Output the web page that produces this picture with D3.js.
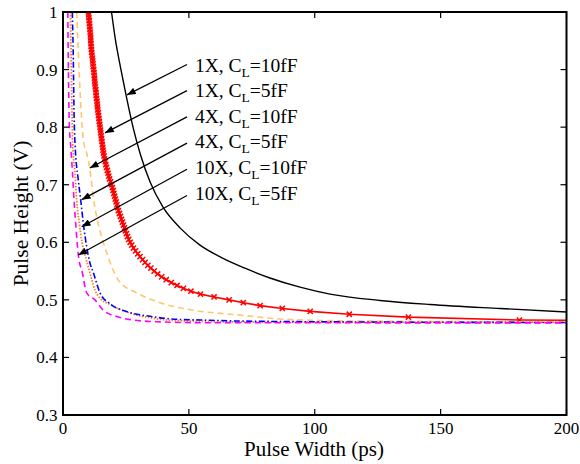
<!DOCTYPE html>
<html><head><meta charset="utf-8">
<script src="https://cdn.jsdelivr.net/npm/d3@7"></script>
<style>
body{margin:0;background:#fff}
svg{display:block}
text{font-family:"Liberation Serif",Tinos,"Times New Roman",Times,serif;fill:#000}
</style>
</head><body><svg id="c" width="580" height="464"></svg>
<script>
// ---------- data ----------
const xTicks = [0, 50, 100, 150, 200];
const yTicks = [0.3, 0.4, 0.5, 0.6, 0.7, 0.8, 0.9, 1];
const yTickLabels = ["0.3", "0.4", "0.5", "0.6", "0.7", "0.8", "0.9", "1"];
const xTickLabels = ["0", "50", "100", "150", "200"];
const xLabel = "Pulse Width (ps)";
const yLabel = "Pulse Height (V)";

// 1X, CL=10fF (black solid)
const blackW = [19.27, 20.85, 22.84, 25.03, 27.81, 30.78, 34.56, 39.72, 46.47, 54.42, 63.16, 72.29, 82.22, 94.14, 106.06, 125.92, 145.78, 173.59, 200];
const blackV = [1.0, 0.951, 0.904, 0.856, 0.800, 0.752, 0.705, 0.661, 0.625, 0.595, 0.573, 0.555, 0.538, 0.522, 0.510, 0.499, 0.492, 0.485, 0.479];

// 1X, CL=5fF (red, x markers)
const redV = [1.000,0.995,0.990,0.985,0.980,0.975,0.970,0.965,0.960,0.955,0.950,0.945,0.940,0.935,0.930,0.925,0.920,0.915,0.910,0.905,
  0.900,0.895,0.890,0.885,0.880,0.875,0.870,0.865,0.860,0.855,0.850,0.845,0.840,0.835,0.830,0.825,0.820,0.815,0.810,0.805,
  0.800,0.795,0.790,0.785,0.780,0.775,0.770,0.765,0.760,0.755,0.750,0.745,0.740,0.735,0.730,0.725,0.720,0.715,0.710,0.705,
  0.700,0.695,0.690,0.685,0.680,0.675,0.670,0.665,0.660,0.655,0.650,0.645,0.640,0.635,0.630,0.625,0.620,0.615,0.610,0.605,
  0.600,0.595,0.590,0.585,0.580,0.575,0.570,0.565,0.560,0.555,0.550,0.545,0.540,0.535,0.530,0.525,0.520,0.515,0.510,0.505,
  0.500,0.495,0.490,0.485,0.480,0.475,0.470,0.465,0.4645];
const redW = [10.1,10.2,10.3,10.4,10.5,10.6,10.7,10.8,10.9,11.0,11.0,11.1,11.2,11.3,11.4,11.5,11.7,11.8,11.9,12.0,
  12.2,12.3,12.4,12.5,12.6,12.7,12.8,13.0,13.1,13.2,13.3,13.5,13.6,13.7,13.8,14.0,14.1,14.3,14.4,14.6,
  14.7,14.9,15.0,15.2,15.3,15.5,15.6,15.8,15.9,16.1,16.3,16.5,16.8,17.0,17.3,17.6,17.9,18.2,18.5,18.9,
  19.3,19.6,19.9,20.2,20.5,20.8,21.1,21.4,21.7,22.0,22.4,22.8,23.2,23.6,24.0,24.4,24.8,25.2,25.6,26.1,
  26.7,27.3,28.0,28.8,29.7,30.6,31.6,32.6,33.7,34.9,36.2,37.6,39.2,41.0,43.0,45.3,47.8,50.8,54.6,60.0,
  66.0,71.6,78.3,87.1,98.2,113.7,137.2,181.3,200];
const redMarked = 108; // first 108 points carry markers

// 4X, CL=10fF (light orange dashed)
const ltOrW = [5.45, 6.56, 8.07, 9.42, 10.7, 12.0, 13.4, 15.4, 17.4, 19.4, 22.0, 29.3, 38.6, 51.7, 69.1, 86.3, 106.2, 146, 200];
const ltOrV = [1.0, 0.882, 0.778, 0.755, 0.726, 0.679, 0.644, 0.609, 0.581, 0.557, 0.534, 0.512, 0.495, 0.482, 0.474, 0.4667, 0.464, 0.4624, 0.4615];

// 4X, CL=5fF (blue dash-dot)
const blueW = [3.7, 4.1, 4.37, 4.77, 6.08, 7.04, 8.07, 9.42, 10.7, 12.0, 14.7, 18.7, 25.8, 34.6, 45.2, 54.5, 69.1, 120, 200];
const blueV = [1.0, 0.917, 0.830, 0.772, 0.708, 0.673, 0.633, 0.592, 0.564, 0.548, 0.512, 0.493, 0.479, 0.4714, 0.4662, 0.465, 0.4633, 0.4615, 0.4607];

// 10X, CL=10fF (orange dotted)
const orW = [2.98, 3.38, 3.86, 4.77, 5.45, 6.48, 7.55, 8.75, 9.94, 11.1, 12.7, 14.7, 18.7, 21.9, 26.6, 33.8, 41.4, 54.5, 74.4, 200];
const orV = [1.0, 0.882, 0.772, 0.720, 0.673, 0.633, 0.600, 0.578, 0.559, 0.540, 0.517, 0.503, 0.492, 0.485, 0.477, 0.4694, 0.465, 0.4627, 0.4615, 0.4607];

// 10X, CL=5fF (magenta dashed)
const magW = [1.91, 2.19, 2.58, 2.9, 3.78, 4.37, 5.05, 5.77, 6.36, 7.44, 9.42, 12.7, 16.0, 21.4, 28.0, 37.3, 57.1, 200];
const magV = [1.0, 0.882, 0.795, 0.776, 0.720, 0.673, 0.633, 0.592, 0.569, 0.552, 0.512, 0.500, 0.482, 0.471, 0.465, 0.462, 0.4603, 0.460];

// annotations
const labelMain = ["1X, C", "1X, C", "4X, C", "4X, C", "10X, C", "10X, C"];
const labelSub = ["L", "L", "L", "L", "L", "L"];
const labelTail = ["=10fF", "=5fF", "=10fF", "=5fF", "=10fF", "=5fF"];
const arrowTipW = [25.4, 16.7, 10.65, 7.44, 7.44, 6.08];
const arrowTipV = [0.856, 0.790, 0.729, 0.674, 0.627, 0.578];

// ---------- drawing ----------
const svg = d3.select("#c");
const L = 63, R = 566.5, T = 12, B = 415;
const x = d3.scaleLinear().domain([0, 200]).range([L, R]);
const y = d3.scaleLinear().domain([0.3, 1]).range([B, T]);

const defs = svg.append("defs");
defs.append("clipPath").attr("id", "clip")
  .append("rect").attr("x", L).attr("y", T).attr("width", R - L).attr("height", B - T);
defs.append("marker").attr("id", "ah").attr("viewBox", "0 0 10 8")
  .attr("refX", 10).attr("refY", 4).attr("markerWidth", 11).attr("markerHeight", 7)
  .attr("markerUnits", "userSpaceOnUse").attr("orient", "auto")
  .append("path").attr("d", "M0,0 L10,4 L0,8 Z").attr("fill", "#000");

const g = svg.append("g").attr("clip-path", "url(#clip)");
const line = d3.line().x(d => x(d[0])).y(d => y(d[1])).curve(d3.curveMonotoneX);
const lineLin = d3.line().x(d => x(d[0])).y(d => y(d[1]));
const zip = (a, b) => a.map((v, i) => [v, b[i]]);

const series = [
  {w: blackW, v: blackV, color: "#000000", width: 1.4, dash: null},
  {w: ltOrW, v: ltOrV, color: "#FFC66E", width: 1.6, dash: "6,4"},
  {w: orW, v: orV, color: "#F5821F", width: 1.8, dash: "1.5,1.5"},
  {w: blueW, v: blueV, color: "#0000FF", width: 1.6, dash: "6,2.5,1.5,2.5"},
  {w: magW, v: magV, color: "#FF00FF", width: 1.6, dash: "6,4"}
];
series.slice(0, 1).forEach(s => {
  g.append("path").attr("d", line(zip(s.w, s.v))).attr("fill", "none")
    .attr("stroke", s.color).attr("stroke-width", s.width);
});
const redPts = zip(redW, redV);
g.append("path").attr("d", lineLin(redPts)).attr("fill", "none")
  .attr("stroke", "#FF0000").attr("stroke-width", 1.6);
const r = 2.6;
g.selectAll(".mk").data(redPts.slice(0, redMarked)).enter().append("path")
  .attr("d", d => { const cx = x(d[0]), cy = y(d[1]);
    return `M${cx - r},${cy - r}L${cx + r},${cy + r}M${cx - r},${cy + r}L${cx + r},${cy - r}`; })
  .attr("stroke", "#FF0000").attr("stroke-width", 1.5).attr("fill", "none");
series.slice(1).forEach(s => {
  g.append("path").attr("d", line(zip(s.w, s.v))).attr("fill", "none")
    .attr("stroke", s.color).attr("stroke-width", s.width)
    .attr("stroke-dasharray", s.dash);
});

// axes box
const axG = svg.append("g");
axG.append("rect").attr("x", L).attr("y", T).attr("width", R - L).attr("height", B - T)
  .attr("fill", "none").attr("stroke", "#000").attr("stroke-width", 2);
const tl = 6;
xTicks.forEach((t, i) => {
  const px = x(t);
  axG.append("line").attr("x1", px).attr("x2", px).attr("y1", B).attr("y2", B - tl).attr("stroke", "#000").attr("stroke-width", 1.2);
  axG.append("line").attr("x1", px).attr("x2", px).attr("y1", T).attr("y2", T + tl).attr("stroke", "#000").attr("stroke-width", 1.2);
  axG.append("text").attr("x", px).attr("y", 433.5).attr("text-anchor", "middle")
    .attr("font-size", 17).text(xTickLabels[i]);
});
yTicks.forEach((t, i) => {
  const py = y(t);
  axG.append("line").attr("y1", py).attr("y2", py).attr("x1", L).attr("x2", L + tl).attr("stroke", "#000").attr("stroke-width", 1.2);
  axG.append("line").attr("y1", py).attr("y2", py).attr("x1", R).attr("x2", R - tl).attr("stroke", "#000").attr("stroke-width", 1.2);
  axG.append("text").attr("x", 57.5).attr("y", py + 6).attr("text-anchor", "end")
    .attr("font-size", 17).text(yTickLabels[i]);
});
svg.append("text").attr("x", 314).attr("y", 456).attr("text-anchor", "middle")
  .attr("font-size", 21).text(xLabel);
svg.append("text").attr("transform", `translate(27.5,${(T + B) / 2}) rotate(-90)`)
  .attr("text-anchor", "middle").attr("font-size", 21.5).text(yLabel);

// annotations
labelMain.forEach((m, i) => {
  const by = 71.5 + i * 25.6;
  const t = svg.append("text").attr("x", 195).attr("y", by).attr("font-size", 19.5);
  t.append("tspan").text(m);
  t.append("tspan").attr("font-size", 13.5).attr("dy", 5).text(labelSub[i]);
  t.append("tspan").attr("dy", -5).text(labelTail[i]);
  const sy = 64.5 + i * 26.2;
  svg.append("line").attr("x1", 187).attr("y1", sy)
    .attr("x2", x(arrowTipW[i])).attr("y2", y(arrowTipV[i]))
    .attr("stroke", "#000").attr("stroke-width", 1.3).attr("marker-end", "url(#ah)");
});
</script>
</body></html>
